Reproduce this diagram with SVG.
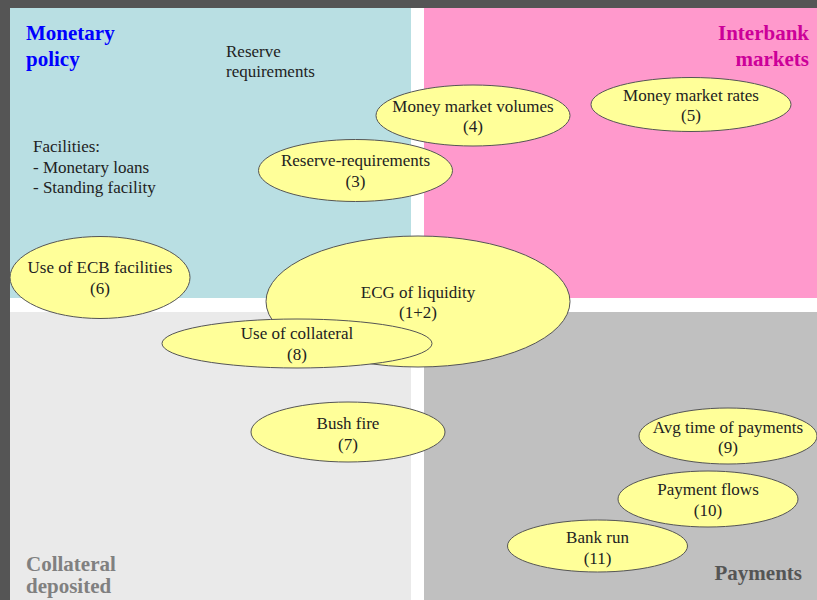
<svg xmlns="http://www.w3.org/2000/svg" width="817" height="600" viewBox="0 0 817 600" font-family="'Liberation Serif', 'DejaVu Serif', serif">
<style>
text{font-family:'Liberation Serif','DejaVu Serif',serif}
.t{font-size:17px;fill:#222}
.m{text-anchor:middle}
.h{font-size:21px;font-weight:bold}
.n ellipse{fill:#ffff99;stroke:#555;stroke-width:1}
</style>
<rect x="0" y="0" width="817" height="600" fill="#555555"/>
<rect x="10" y="8" width="807" height="592" fill="#ffffff"/>
<rect x="10" y="8" width="401" height="290" fill="#b9dfe3"/>
<rect x="424" y="8" width="393" height="290" fill="#ff99cc"/>
<rect x="10" y="312" width="401" height="288" fill="#eaeaea"/>
<rect x="424" y="312" width="393" height="288" fill="#c0c0c0"/>
<text class="h" x="26" y="40" fill="#0000ff">Monetary</text>
<text class="h" x="26" y="66" fill="#0000ff">policy</text>
<text class="h" x="809" y="40" fill="#cc0099" text-anchor="end">Interbank</text>
<text class="h" x="809" y="66" fill="#cc0099" text-anchor="end">markets</text>
<text class="h" x="26" y="571" fill="#808080" font-size="19">Collateral</text>
<text class="h" x="26" y="593" fill="#808080" font-size="19">deposited</text>
<text class="h" x="802" y="580" fill="#555555" text-anchor="end">Payments</text>
<text class="t" x="226" y="57">Reserve</text>
<text class="t" x="226" y="77">requirements</text>
<text class="t" x="33" y="152">Facilities:</text>
<text class="t" x="33" y="173">- Monetary loans</text>
<text class="t" x="33" y="193">- Standing facility</text>
<g id="connectors"></g>
<g id="n4" class="n"><ellipse cx="473" cy="115.5" rx="97" ry="30.5"/><text class="t m" x="473" y="112">Money market volumes</text><text class="t m" x="473" y="132">(4)</text></g>
<g id="n3" class="n"><ellipse cx="355.5" cy="170.5" rx="97" ry="31"/><text class="t m" x="355.5" y="166">Reserve-requirements</text><text class="t m" x="355.5" y="187">(3)</text></g>
<g id="n5" class="n"><ellipse cx="691" cy="104.5" rx="100" ry="27"/><text class="t m" x="691" y="101">Money market rates</text><text class="t m" x="691" y="121">(5)</text></g>
<g id="n6" class="n"><ellipse cx="100" cy="277.5" rx="90" ry="41"/><text class="t m" x="100" y="273">Use of ECB facilities</text><text class="t m" x="100" y="294">(6)</text></g>
<g id="n12" class="n"><ellipse cx="418" cy="301.5" rx="152" ry="65.5"/><text class="t m" x="418" y="298">ECG of liquidity</text><text class="t m" x="418" y="318">(1+2)</text></g>
<g id="n8" class="n"><ellipse cx="297" cy="343.5" rx="135" ry="24.5"/><text class="t m" x="297" y="339">Use of collateral</text><text class="t m" x="297" y="360">(8)</text></g>
<g id="n7" class="n"><ellipse cx="348" cy="432" rx="97" ry="30"/><text class="t m" x="348" y="429">Bush fire</text><text class="t m" x="348" y="450">(7)</text></g>
<g id="n9" class="n"><ellipse cx="728" cy="436" rx="89" ry="28"/><text class="t m" x="728" y="433">Avg time of payments</text><text class="t m" x="728" y="453">(9)</text></g>
<g id="n10" class="n"><ellipse cx="708" cy="499" rx="90" ry="28"/><text class="t m" x="708" y="495">Payment flows</text><text class="t m" x="708" y="516">(10)</text></g>
<g id="n11" class="n"><ellipse cx="597.5" cy="546" rx="90" ry="26"/><text class="t m" x="597.5" y="543">Bank run</text><text class="t m" x="597.5" y="564">(11)</text></g>
</svg>
